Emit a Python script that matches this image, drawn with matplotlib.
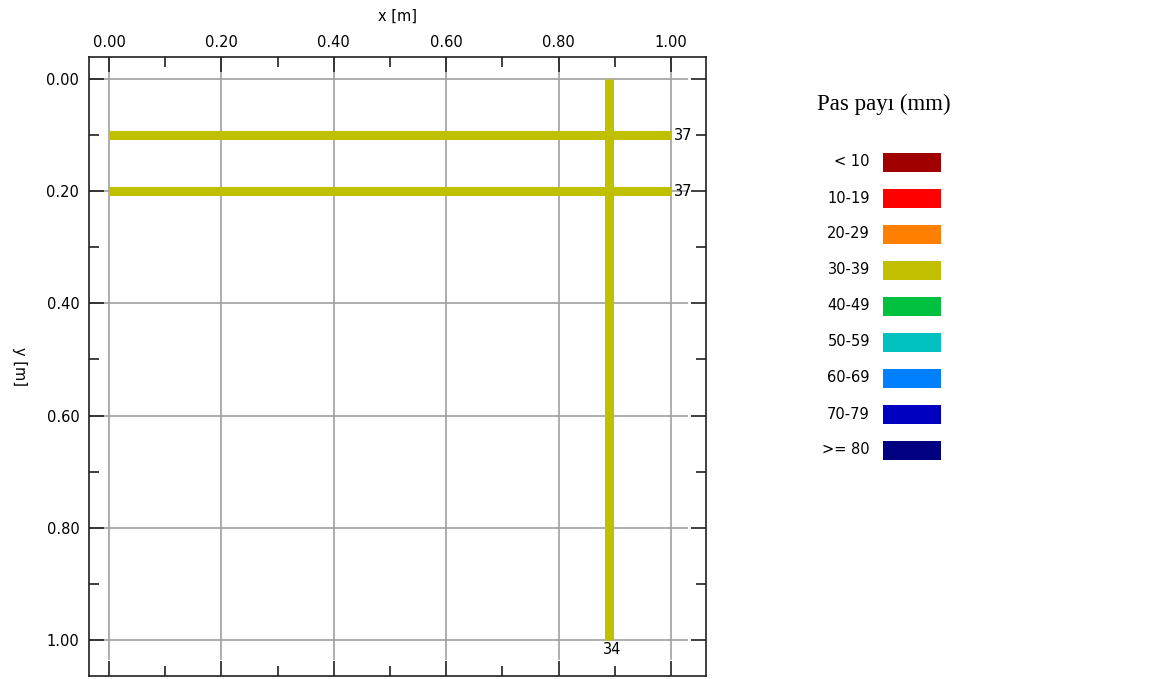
import numpy as np
import matplotlib.pyplot as plt
from matplotlib.patches import Rectangle

# bar data
h_y = [0.1, 0.2]          # horizontal bars (y position)
h_x = [(0.0, 1.0), (0.0, 1.0)]
h_val = [37, 37]
v_x = [0.89]              # vertical bars (x position)
v_y = [(0.0, 1.0)]
v_val = [34]
bar_color = '#C0C000'

leg_labels = ['< 10', '10-19', '20-29', '30-39', '40-49', '50-59', '60-69', '70-79', '>= 80']
leg_colors = ['#A00000', '#FF0000', '#FF8000', '#C0C000', '#00C040', '#00C0C0', '#0080FF', '#0000C0', '#000080']

fs = 10.5
W, H = 1152, 679
fig = plt.figure(figsize=(W/100, H/100), dpi=100)
ax = fig.add_axes([89/W, 3/H, 617/W, 619/H])
ax.set_xlim(-0.0356, 1.0623)
ax.set_ylim(1.064, -0.039)

ticks = np.arange(0, 1.01, 0.2)
ax.set_xticks(ticks)
ax.set_yticks(ticks)
ax.set_xticks(np.arange(0.1, 1.0, 0.2), minor=True)
ax.set_yticks(np.arange(0.1, 1.0, 0.2), minor=True)
ax.set_xticklabels(['%.2f' % t for t in ticks])
ax.set_yticklabels(['%.2f' % t for t in ticks])
ax.xaxis.tick_top()
ax.tick_params(which='both', direction='in', top=True, bottom=True, left=True, right=True,
               labeltop=True, labelbottom=False, labelsize=fs, width=1.2, color='#202020')
ax.tick_params(which='major', length=11)
ax.tick_params(which='minor', length=7)
ax.tick_params(axis='x', pad=5)
ax.tick_params(axis='y', pad=7)
for s in ax.spines.values():
    s.set_linewidth(1.2)
    s.set_color('#202020')

# grid lines
ax.hlines(ticks, -0.035, 1.03, color='#a0a0a0', lw=1.2, zorder=1)
ax.vlines(ticks, -0.039, 1.035, color='#a0a0a0', lw=1.2, zorder=1)

ax.set_xlabel('x [m]', fontsize=fs, labelpad=10)
ax.xaxis.set_label_position('top')
ax.set_ylabel('y [m]', fontsize=fs, rotation=270)
ax.yaxis.set_label_coords(-0.124, 0.5)

for y, (x0, x1), val in zip(h_y, h_x, h_val):
    ax.plot([x0, x1], [y, y], color=bar_color, lw=6.5, solid_capstyle='butt', zorder=3)
    ax.text(x1 + 0.006, y, str(val), fontsize=fs, va='center', ha='left', zorder=4)
for x, (y0, y1), val in zip(v_x, v_y, v_val):
    ax.plot([x, x], [y0, y1], color=bar_color, lw=6.5, solid_capstyle='butt', zorder=3)
    ax.text(x + 0.005, y1 + 0.003, str(val), fontsize=fs, va='top', ha='center', zorder=4)

# legend
fig.text(884/W, 1 - 104/H, 'Pas payı (mm)', fontsize=16.5, family='Liberation Serif',
         ha='center', va='center')
for i, (lab, col) in enumerate(zip(leg_labels, leg_colors)):
    yc = 162 + i * 36
    fig.add_artist(Rectangle((883/W, 1 - (yc + 9.5)/H), 58/W, 19/H, transform=fig.transFigure,
                             facecolor=col, edgecolor='none'))
    fig.text(870/W, 1 - yc/H, lab, fontsize=fs, ha='right', va='center')

fig.savefig('out.png', dpi=100)
